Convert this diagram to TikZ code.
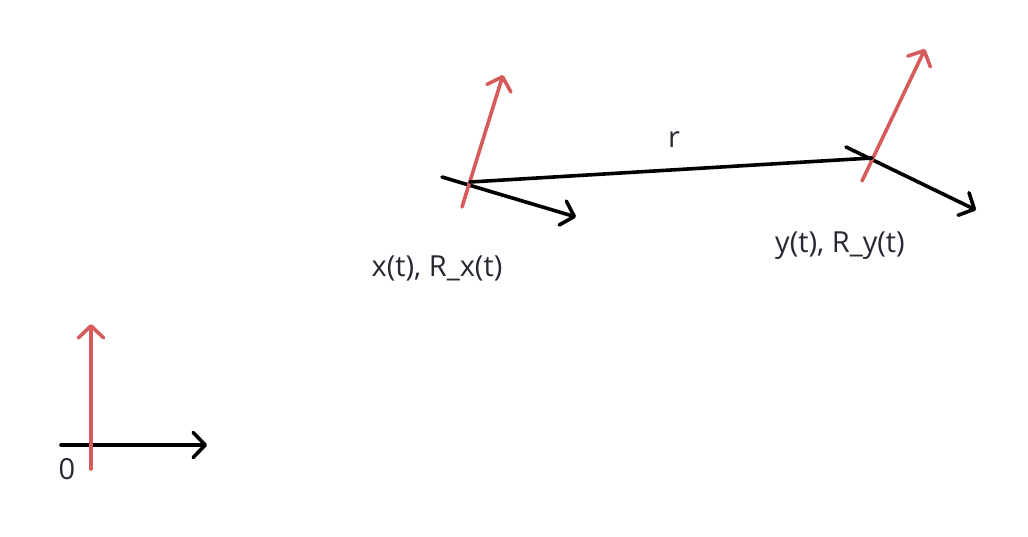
\documentclass[tikz,border=0pt]{standalone}
\usepackage{fontspec}
\setmainfont{Open Sans}
\usetikzlibrary{arrows.meta}
\definecolor{axred}{RGB}{214,92,92}
\definecolor{txt}{RGB}{40,40,50}
\begin{document}
\begin{tikzpicture}[x=1pt,y=-1pt,
  ax/.style={line width=3.6pt,line cap=round,-{Straight Barb[length=12pt,width=25pt,line width=3.6pt,round]}},
  blk/.style={ax,black},
  red/.style={ax,axred},
  lbl/.style={text=txt,font=\fontsize{29}{34}\selectfont,inner sep=0pt}]
\useasboundingbox (0,0) rectangle (1028,536);
% origin frame
\coordinate (o0) at (61,445);
\coordinate (o1) at (207,445);
\coordinate (o2) at (91,469);
\coordinate (o3) at (91,324);
\draw[blk] (o0) -- (o1);
\draw[red] (o2) -- (o3);
\node[lbl] (zero) at (67,469) {0};
% x frame
\coordinate (xa) at (442,177);
\coordinate (xb) at (576,217);
\coordinate (xc) at (462,207);
\coordinate (xd) at (503,75);
\coordinate (xo) at (470,182);
\draw[blk] (xa) -- (xb);
\draw[red] (xc) -- (xd);
% y frame
\coordinate (ya) at (846,147);
\coordinate (yb) at (976,210);
\coordinate (yc) at (862,181);
\coordinate (yd) at (925,49);
\coordinate (yo) at (872,158);
\draw[blk] (ya) -- (yb);
\draw[red] (yc) -- (yd);
% r
\draw[line width=3.6pt,line cap=round] (xo) -- (yo);
\node[lbl] (r) at (674,140) {r};
\node[lbl] (xl) at (437,268) {x(t), R\_x(t)};
\node[lbl] (yl) at (840,246) {y(t), R\_y(t)};
\end{tikzpicture}
\end{document}
